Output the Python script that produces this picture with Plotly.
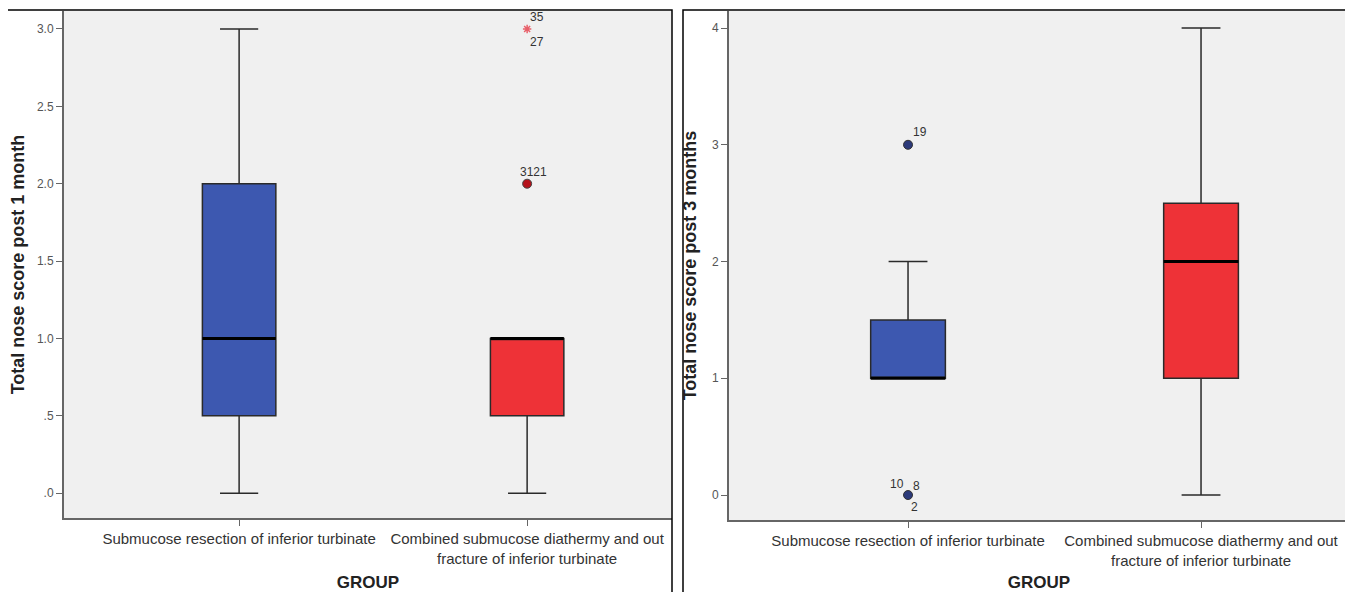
import plotly.graph_objects as go

groups = ["Submucose resection of inferior turbinate",
          "Combined submucose diathermy and out<br>fracture of inferior turbinate"]
colors = ["#3d58b0", "#ee3237"]

# Panel 1: Total nose score post 1 month
m1_q1 = [0.5, 0.5]
m1_median = [1.0, 1.0]
m1_q3 = [2.0, 1.0]
m1_low = [0.0, 0.0]
m1_high = [3.0, 1.0]
m1_out_circle_y = [2.0]
m1_out_circle_lbl = ["3121"]
m1_out_star_y = [3.0]
m1_out_star_lbl = ["35", "27"]
m1_ticks = [0, 0.5, 1.0, 1.5, 2.0, 2.5, 3.0]
m1_ticktext = [".0", ".5", "1.0", "1.5", "2.0", "2.5", "3.0"]

# Panel 2: Total nose score post 3 months
m3_q1 = [1.0, 1.0]
m3_median = [1.0, 2.0]
m3_q3 = [1.5, 2.5]
m3_low = [1.0, 0.0]
m3_high = [2.0, 4.0]
m3_out_y = [3.0, 0.0]
m3_out_lbl_top = ["19"]
m3_out_lbl_zero = ["10", "8", "2"]
m3_ticks = [0, 1, 2, 3, 4]
m3_ticktext = ["0", "1", "2", "3", "4"]

# page is offset by the 8px body margin
OFF = 8
W, H = 1353 - OFF, 592 - OFF
def px(x): return (x - OFF) / W
def py(y): return (H - (y - OFF)) / H

BW = 0.255
fig = go.Figure()

for i, g in enumerate(groups):
    fig.add_trace(go.Box(
        x=[g], q1=[m1_q1[i]], median=[m1_median[i]], q3=[m1_q3[i]],
        lowerfence=[m1_low[i]], upperfence=[m1_high[i]],
        fillcolor=colors[i], line=dict(color="#2a2a2a", width=1.5),
        whiskerwidth=0.52, width=BW, boxpoints=False,
        xaxis="x", yaxis="y", showlegend=False, hoverinfo="skip"))
    fig.add_trace(go.Box(
        x=[g], q1=[m3_q1[i]], median=[m3_median[i]], q3=[m3_q3[i]],
        lowerfence=[m3_low[i]], upperfence=[m3_high[i]],
        fillcolor=colors[i], line=dict(color="#2a2a2a", width=1.5),
        whiskerwidth=0.52, width=BW, boxpoints=False,
        xaxis="x2", yaxis="y2", showlegend=False, hoverinfo="skip"))

lblfont = dict(size=12, color="#333", family="Liberation Sans, Arial")

# Outlier markers
fig.add_trace(go.Scatter(x=[groups[1]], y=m1_out_circle_y, mode="markers",
                         marker=dict(color="#b5121b", size=9, line=dict(color="#444", width=1)),
                         xaxis="x", yaxis="y", showlegend=False, hoverinfo="skip"))
fig.add_trace(go.Scatter(x=[groups[1]], y=m1_out_star_y, mode="markers",
                         marker=dict(color="#e8606a", size=7, symbol="asterisk-open",
                                     line=dict(color="#e8606a", width=1.5)),
                         xaxis="x", yaxis="y", showlegend=False, hoverinfo="skip"))
fig.add_trace(go.Scatter(x=[groups[0], groups[0]], y=m3_out_y, mode="markers",
                         marker=dict(color="#2c3a7a", size=9, line=dict(color="#333", width=1)),
                         xaxis="x2", yaxis="y2", showlegend=False, hoverinfo="skip"))

# Outlier labels
def lab(ax, x, y, t, dx, dy):
    fig.add_annotation(xref="x" + ax, yref="y" + ax, x=x, y=y, text=t, showarrow=False,
                       xshift=dx, yshift=dy, font=lblfont)

lab("", groups[1], m1_out_star_y[0], m1_out_star_lbl[0], 10, 12)
lab("", groups[1], m1_out_star_y[0], m1_out_star_lbl[1], 10, -13)
lab("", groups[1], m1_out_circle_y[0], m1_out_circle_lbl[0], 6, 12)
lab("2", groups[0], m3_out_y[0], m3_out_lbl_top[0], 12, 13)
lab("2", groups[0], m3_out_y[1], m3_out_lbl_zero[0], -11, 11)
lab("2", groups[0], m3_out_y[1], m3_out_lbl_zero[1], 8, 9)
lab("2", groups[0], m3_out_y[1], m3_out_lbl_zero[2], 6, -12)

tickfont = dict(size=12, color="#555", family="Liberation Sans, Arial")
xtickfont = dict(size=15, color="#333", family="Liberation Sans, Arial")
titlefont = dict(size=18, color="#222", family="Liberation Sans, Arial", weight="bold")
gfont = dict(size=17, color="#222", family="Liberation Sans, Arial", weight="bold")

common_x = dict(type="category", showline=True, linecolor="#666", linewidth=2,
                ticks="outside", ticklen=6, tickcolor="#666", tickfont=xtickfont,
                showgrid=False, zeroline=False, fixedrange=True, automargin=True)
common_y = dict(showline=True, linecolor="#666", linewidth=2, ticks="outside",
                ticklen=6, tickcolor="#666", tickfont=tickfont, showgrid=False,
                zeroline=False, automargin=True)

fig.update_layout(
    width=W, height=H, margin=dict(l=0, r=0, t=0, b=0, autoexpand=False),
    paper_bgcolor="white", plot_bgcolor="#f0f0f0",
    xaxis=dict(domain=[px(64), px(672)], anchor="y", range=[-0.608, 1.503],
               title=dict(text="<b>GROUP</b>", font=gfont, standoff=18), **common_x),
    yaxis=dict(domain=[py(518), py(11)], anchor="x", range=[-0.16, 3.116],
               tickvals=m1_ticks, ticktext=m1_ticktext,
               title=dict(text="<b>Total nose score post 1 month</b>", font=titlefont, standoff=8),
               **common_y),
    xaxis2=dict(domain=[px(729), px(1349)], anchor="y2", range=[-0.611, 1.505],
                title=dict(text="<b>GROUP</b>", font=gfont, standoff=22), **common_x),
    yaxis2=dict(domain=[py(520), py(11)], anchor="x2", range=[-0.214, 4.146],
                tickvals=m3_ticks, ticktext=m3_ticktext,
                title=dict(text="<b>Total nose score post 3 months</b>", font=titlefont, standoff=11),
                **common_y),
)

# median lines in black
for ax, meds in (("", m1_median), ("2", m3_median)):
    for i, g in enumerate(groups):
        fig.add_shape(type="line", xref="x" + ax, yref="y" + ax,
                      x0=i - BW / 2, x1=i + BW / 2, y0=meds[i], y1=meds[i],
                      line=dict(color="black", width=3))

# panel frames
fig.add_shape(type="rect", xref="paper", yref="paper", x0=px(6), x1=px(672),
              y0=-0.05, y1=py(10), line=dict(color="black", width=1.5))
fig.add_shape(type="rect", xref="paper", yref="paper", x0=px(683), x1=px(1350),
              y0=-0.05, y1=py(10), line=dict(color="black", width=1.5))

fig.write_html("out.html")
